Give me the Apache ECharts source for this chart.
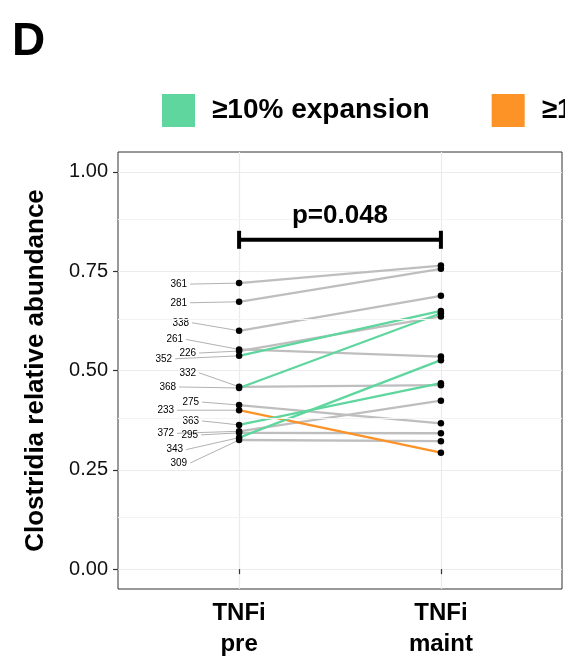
<!DOCTYPE html>
<html>
<head>
<meta charset="utf-8">
<script src="https://cdn.jsdelivr.net/npm/echarts@6/dist/echarts.min.js"></script>
<style>html,body{margin:0;padding:0;background:#fff}#c{width:565px;height:672px}</style>
</head>
<body>
<div id="c"></div>
<script>
// ---- data ----
const subjectIds = ['361','281','338','261','226','352','332','368','275','233','363','372','295','343','309'];
const preValues   = [0.720,0.673,0.600,0.553,0.549,0.537,0.459,0.456,0.413,0.400,0.363,0.347,0.343,0.331,0.325];
const maintValues = [0.764,0.756,0.688,0.535,0.636,0.650,0.463,0.644,0.367,0.293,0.468,0.424,0.342,0.526,0.322];
const groups      = ['none','none','none','none','none','exp','none','exp','none','con','exp','none','none','exp','none'];
const xCategories = ['TNFi\npre','TNFi\nmaint'];
const yTickValues = [0,0.25,0.5,0.75,1];
const yMinorValues = [0.125,0.375,0.625,0.875];
const legendNames = ['≥10% expansion','≥10% contraction'];
const pValueText = 'p=0.048';
const bracketLevel = 0.829;

// ---- styles (pixel offsets of repelled id labels, relative to the point) ----
const labelDx = [-52,-52,-50,-56,-43,-67,-43,-63,-40,-65,-40,-65,-41,-56,-52];
const labelDy = [1,1,-8,-10,2,3,-14,-1,-3,0,-4,2,2,12,23];
const groupColor = {none:'#bebebe', exp:'#5ed69e', con:'#fd9226'};
const groupName = {none:'no change', exp:legendNames[0], con:legendNames[1]};
const FONT = '"Liberation Sans", Arial, Helvetica, sans-serif';

const chart = echarts.init(document.getElementById('c'), null, {renderer:'canvas'});

const order = subjectIds.map((_, i) => i).sort((a, b) => (groups[a] === 'none' ? 0 : 1) - (groups[b] === 'none' ? 0 : 1));
const lineSeries = order.map(i => ({
  type: 'line',
  name: groupName[groups[i]],
  data: [[1, preValues[i]], [2, maintValues[i]]],
  showSymbol: false,
  symbol: 'none',
  lineStyle: {color: groupColor[groups[i]], width: 2.3},
  itemStyle: {color: groupColor[groups[i]]},
  z: 3,
  silent: true
}));

const pointData = [];
subjectIds.forEach((_, i) => { pointData.push([1, preValues[i]]); pointData.push([2, maintValues[i]]); });

const option = {
  animation: false,
  backgroundColor: '#ffffff',
  title: {
    text: 'D', left: 12, top: 19, padding: 0,
    textStyle: {fontSize: 46, fontWeight: 'bold', fontFamily: FONT, color: '#000'}
  },
  legend: {
    left: 162, top: 94, width: 1500, padding: 0,
    icon: 'rect', itemWidth: 33, itemHeight: 33, itemGap: 62,
    selectedMode: false,
    data: legendNames,
    textStyle: {fontSize: 28, fontWeight: 'bold', fontFamily: FONT, color: '#000', padding: [0,0,0,12]}
  },
  grid: {left: 118, right: 3, top: 152, bottom: 83, show: true, borderColor: '#333', borderWidth: 1, backgroundColor: '#fff'},
  xAxis: {
    type: 'value', min: 0.4, max: 2.6,
    axisLine: {show: false},
    axisTick: {show: true, customValues: [1, 2], length: 5, lineStyle: {color: '#333', width: 1.2}},
    axisLabel: {
      customValues: [1, 2], margin: 9,
      formatter: v => xCategories[Math.round(v) - 1],
      fontSize: 24, fontWeight: 'bold', fontFamily: FONT, color: '#000', lineHeight: 31
    },
    splitLine: {show: true, lineStyle: {color: '#ebebeb', width: 1.2}}
  },
  yAxis: {
    type: 'value', min: -0.05, max: 1.05,
    name: 'Clostridia relative abundance', nameLocation: 'middle', nameGap: 69,
    nameTextStyle: {fontSize: 26, fontWeight: 'bold', fontFamily: FONT, color: '#000'},
    axisLine: {show: false},
    axisTick: {show: true, customValues: yTickValues, length: 5, lineStyle: {color: '#333', width: 1.2}},
    axisLabel: {customValues: yTickValues, margin: 10, formatter: v => v.toFixed(2), fontSize: 20, fontFamily: FONT, color: '#111'},
    splitLine: {show: true, lineStyle: {color: '#ebebeb', width: 1.2}}
  },
  series: [
    {
      type: 'line', name: 'minor', data: [], silent: true, z: 1,
      markLine: {
        silent: true, symbol: 'none', label: {show: false},
        lineStyle: {color: '#f3f3f3', width: 1, type: 'solid'},
        data: yMinorValues.map(v => ({yAxis: v}))
      }
    },
    ...lineSeries,
    {
      type: 'custom', name: 'labels', z: 4, silent: true,
      data: subjectIds.map((_, i) => [1, preValues[i], i]),
      encode: {x: 0, y: 1},
      renderItem: (params, api) => {
        const i = api.value(2);
        const p = api.coord([api.value(0), api.value(1)]);
        const lx = p[0] + labelDx[i], ly = p[1] + labelDy[i];
        return {type: 'group', children: [
          {type: 'line', shape: {x1: lx + 3, y1: ly, x2: p[0], y2: p[1]}, style: {stroke: '#a8a8a8', lineWidth: 0.9}},
          {type: 'text', x: lx, y: ly, style: {text: subjectIds[i], fill: '#000', fontSize: 10, fontFamily: FONT, align: 'right', verticalAlign: 'middle'}}
        ]};
      }
    },
    {
      type: 'scatter', name: 'points', data: pointData, symbol: 'circle', symbolSize: 6.5,
      itemStyle: {color: '#000', opacity: 1}, z: 6, silent: true
    },
    {
      type: 'custom', name: 'bracket', z: 7, silent: true,
      data: [[1, bracketLevel, 2]],
      encode: {x: 0, y: 1},
      renderItem: (params, api) => {
        const a = api.coord([api.value(0), api.value(1)]);
        const b = api.coord([api.value(2), api.value(1)]);
        const s = {stroke: '#000', lineWidth: 4};
        return {type: 'group', children: [
          {type: 'line', shape: {x1: a[0], y1: a[1], x2: b[0], y2: b[1]}, style: s},
          {type: 'line', shape: {x1: a[0], y1: a[1] - 9, x2: a[0], y2: a[1] + 9}, style: s},
          {type: 'line', shape: {x1: b[0], y1: b[1] - 9, x2: b[0], y2: b[1] + 9}, style: s},
          {type: 'text', x: (a[0] + b[0]) / 2, y: a[1] - 11, style: {text: pValueText, fill: '#000', fontSize: 26, fontWeight: 'bold', fontFamily: FONT, align: 'center', verticalAlign: 'bottom'}}
        ]};
      }
    }
  ]
};
chart.setOption(option);
</script>
</body>
</html>
